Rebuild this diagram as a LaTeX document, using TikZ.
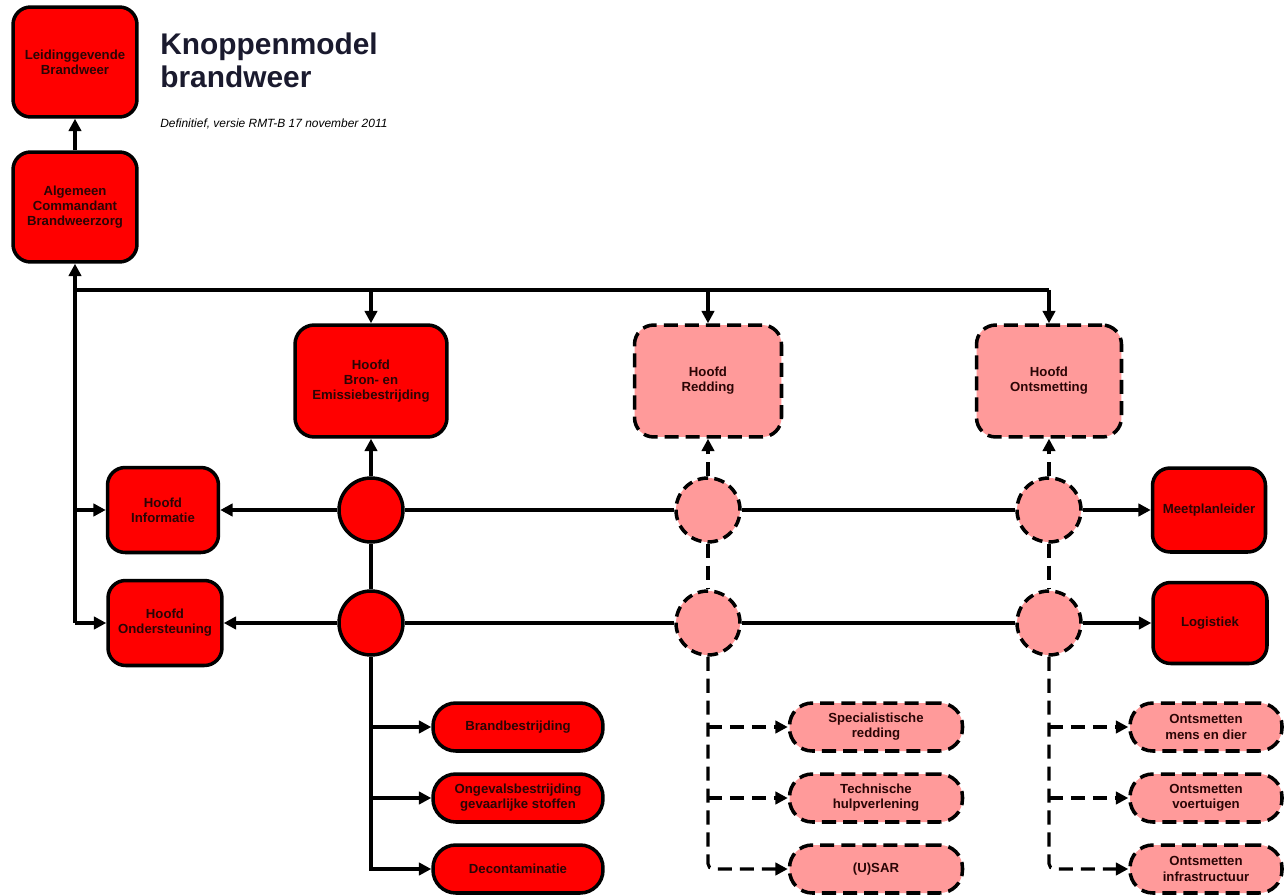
\documentclass[tikz,border=0pt]{standalone}
\usepackage{fontspec}
\setmainfont{Liberation Sans}
\usepackage{tikz}
\usetikzlibrary{arrows.meta,positioning}
\definecolor{brred}{HTML}{FF0000}
\definecolor{brpink}{HTML}{FF9A9A}
\definecolor{txt}{HTML}{2A0505}
\definecolor{title}{HTML}{1A1A2E}
\tikzset{
  box/.style={draw=black, line width=2pt, line join=round, rounded corners=10pt, fill=brred, text=txt,
    font=\fontsize{7.5}{8.6}\selectfont\bfseries, align=center, inner sep=2pt},
  pbox/.style={box, fill=brpink, dash pattern=on 8pt off 4pt},
  pill/.style={box, rounded corners=13pt, minimum height=0.96cm},
  ppill/.style={pill, fill=brpink, dash pattern=on 8pt off 4pt},
  knop/.style={circle, draw=black, line width=2pt, fill=brred, minimum size=1.28cm, inner sep=0pt},
  pknop/.style={knop, fill=brpink, dash pattern=on 6pt off 3.5pt},
  con/.style={draw=black, line width=1.8pt},
  arr/.style={con, -{Triangle[length=7pt,width=7pt]}},
  dcon/.style={con, dash pattern=on 8pt off 4.5pt},
  darr/.style={arr, dash pattern=on 8pt off 4.5pt},
}
\begin{document}
\begin{tikzpicture}[x=0.02cm, y=-0.02cm]
\useasboundingbox (0,0) rectangle (1285,895);

% title
\node[anchor=base west, inner sep=0pt, text=title, font=\fontsize{17}{19}\selectfont\bfseries] (kop) at (160,55) {Knoppenmodel};
\node[anchor=base west, inner sep=0pt, text=title, font=\fontsize{17}{19}\selectfont\bfseries] (kop2) at (160,88) {brandweer};
\node[anchor=base west, inner sep=0pt, font=\fontsize{6.8}{8}\selectfont\itshape] (sub) at (160,128) {Definitief, versie RMT-B 17 november 2011};

% top of the model
\node[box, minimum width=2.48cm, minimum height=2.2cm] (lb) at (75,62) {Leidinggevende\\Brandweer};
\node[box, minimum width=2.48cm, minimum height=2.2cm] (acb) at (75,207) {Algemeen\\Commandant\\Brandweerzorg};

% hoofden
\node[box, minimum width=3.04cm, minimum height=2.24cm, rounded corners=11pt] (bron) at (371,381) {Hoofd\\Bron- en\\Emissiebestrijding};
\node[pbox, minimum width=2.94cm, minimum height=2.24cm, rounded corners=11pt] (redding) at (708,381) {Hoofd\\Redding};
\node[pbox, minimum width=2.9cm, minimum height=2.24cm, rounded corners=11pt] (ontsm) at (1049,381) {Hoofd\\Ontsmetting};

% knoppen
\node[knop] (k11) at (371,510) {};
\node[knop] (k21) at (371,623) {};
\node[pknop] (k12) at (708,510) {};
\node[pknop] (k22) at (708,623) {};
\node[pknop] (k13) at (1049,510) {};
\node[pknop] (k23) at (1049,623) {};

% zijkant
\node[box, minimum width=2.22cm, minimum height=1.7cm] (info) at (163,510) {Hoofd\\Informatie};
\node[box, minimum width=2.28cm, minimum height=1.7cm] (onder) at (165,623) {Hoofd\\Ondersteuning};
\node[box, minimum width=2.26cm, minimum height=1.68cm] (meet) at (1209,510) {Meetplanleider};
\node[box, minimum width=2.28cm, minimum height=1.62cm] (log) at (1210,623) {Logistiek};

% eenheden
\node[pill, minimum width=3.4cm] (brand) at (518,727) {Brandbestrijding};
\node[pill, minimum width=3.4cm] (ongev) at (518,798) {Ongevalsbestrijding\\gevaarlijke stoffen};
\node[pill, minimum width=3.4cm] (decon) at (518,869) {Decontaminatie};
\node[ppill, minimum width=3.46cm] (spec) at (876,727) {Specialistische\\redding};
\node[ppill, minimum width=3.46cm] (thv) at (876,798) {Technische\\hulpverlening};
\node[ppill, minimum width=3.46cm] (usar) at (876,869) {(U)SAR};
\node[ppill, minimum width=3.04cm] (omd) at (1206,727) {Ontsmetten\\mens en dier};
\node[ppill, minimum width=3.04cm] (ovt) at (1206,798) {Ontsmetten\\voertuigen};
\node[ppill, minimum width=3.04cm] (oinf) at (1206,869) {Ontsmetten\\infrastructuur};

% lijnen
\coordinate (tl) at (75,290);
\coordinate (bl) at (75,623);
\draw[arr] (acb) -- (lb);
\draw[arr] (bl) -- (acb);
\draw[con] (tl) -- (ontsm.north |- tl);
\foreach \n in {bron,redding,ontsm}
  \draw[arr] (\n.north |- tl) -- (\n.north);
\draw[arr] (tl |- info) -- (info);
\draw[arr] (bl) -- (onder);

\draw[arr] (k11) -- (info);
\draw[arr] (k21) -- (onder);
\draw[con] (k11) -- (k12) (k12) -- (k13);
\draw[con] (k21) -- (k22) (k22) -- (k23);
\draw[arr] (k13) -- (meet);
\draw[arr] (k23) -- (log);

\draw[arr] (k11) -- (bron);
\draw[con] (k11) -- (k21);
\draw[darr] (k12) -- (redding);
\draw[dcon] (k12) -- (k22);
\draw[darr] (k13) -- (ontsm);
\draw[dcon] (k13) -- (k23);

\draw[arr] (k21) |- (decon);
\foreach \n in {brand,ongev}
  \draw[arr] (k21 |- \n) -- (\n);
\draw[darr, rounded corners=3pt] (k22) |- (usar);
\foreach \n in {spec,thv}
  \draw[darr] (k22 |- \n) -- (\n);
\draw[darr, rounded corners=3pt] (k23) |- (oinf);
\foreach \n in {omd,ovt}
  \draw[darr] (k23 |- \n) -- (\n);
\end{tikzpicture}
\end{document}
